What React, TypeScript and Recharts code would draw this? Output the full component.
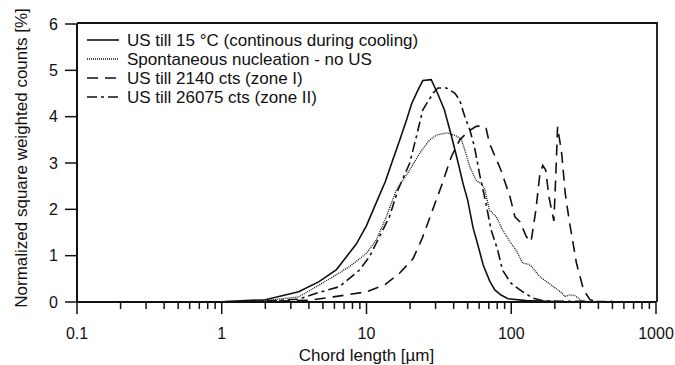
import { LineChart, Line, XAxis, YAxis } from 'recharts'

// chord length [µm] and normalized counts [%]
const coolingX = [1.05, 2, 3.4, 4.7, 6.2, 8.5, 10, 11.7, 13.5, 15.2, 17, 19, 20.5, 22.7, 24.5, 28, 31, 34.5, 38.5, 43, 46.5, 50, 54.5, 58, 64, 71, 77, 85, 95, 127, 200, 950]
const coolingY = [0.01, 0.05, 0.22, 0.44, 0.7, 1.25, 1.65, 2.15, 2.6, 3.07, 3.5, 3.95, 4.28, 4.58, 4.78, 4.8, 4.5, 4.15, 3.6, 3.0, 2.55, 2.2, 1.6, 1.3, 0.8, 0.45, 0.26, 0.15, 0.07, 0.03, 0.01, 0]

const spontX = [1.05, 2, 3.4, 4.5, 5.9, 7.6, 10, 11.7, 13.7, 16.1, 19.9, 23.3, 27.3, 30.4, 35.6, 40.7, 45, 47.8, 51.7, 57, 62, 65.5, 70.6, 78.7, 87, 98, 108, 120, 130, 137, 157, 196, 223, 235, 251, 270, 287, 305, 350, 950]
const spontY = [0, 0.03, 0.11, 0.33, 0.55, 0.76, 1.05, 1.34, 1.84, 2.42, 2.85, 3.21, 3.5, 3.6, 3.65, 3.6, 3.52, 3.28, 2.92, 2.63, 2.55, 2.45, 1.99, 1.84, 1.56, 1.3, 1.12, 0.84, 0.82, 0.78, 0.55, 0.33, 0.2, 0.12, 0.15, 0.15, 0.1, 0.03, 0, 0]

const zone1X = [1.05, 2, 4.05, 5.9, 10, 13.5, 16.9, 21, 24, 26.5, 29.5, 32.8, 38.6, 44.1, 50.4, 57.2, 63.8, 67, 70.6, 84.8, 98, 106, 115, 127, 137, 148, 157, 165, 173, 182, 197, 203, 209, 223, 236, 251, 282, 316, 350, 400, 950]
const zone1Y = [0, 0.01, 0.04, 0.11, 0.22, 0.38, 0.62, 0.94, 1.34, 1.7, 2.1, 2.49, 3.14, 3.5, 3.68, 3.79, 3.8, 3.75, 3.43, 2.85, 2.27, 1.84, 1.73, 1.41, 1.3, 1.99, 2.71, 2.95, 2.85, 2.27, 1.75, 2.71, 3.78, 3.21, 2.35, 1.77, 0.84, 0.26, 0.05, 0, 0]

const zone2X = [1.05, 2, 3.4, 4.5, 6.5, 8.95, 10.5, 12.3, 14.4, 16.5, 19.9, 22.1, 24.5, 28.9, 31.2, 35.6, 40.7, 44, 47.8, 51.7, 55.7, 60.5, 66.9, 72.5, 80.6, 87, 100, 120, 142, 170, 950]
const zone2Y = [0, 0.02, 0.06, 0.19, 0.33, 0.69, 0.98, 1.41, 1.84, 2.42, 3.0, 3.57, 4.15, 4.51, 4.62, 4.62, 4.51, 4.36, 4.0, 3.72, 3.35, 2.75, 2.13, 1.56, 1.12, 0.69, 0.4, 0.22, 0.08, 0.02, 0]

const majorTicks = [0.1, 1, 10, 100, 1000]
const xTicks = [0.1, 0.2, 0.3, 0.4, 0.5, 0.6, 0.7, 0.8, 0.9, 1, 2, 3, 4, 5, 6, 7, 8, 9, 10, 20, 30, 40, 50, 60, 70, 80, 90, 100, 200, 300, 400, 500, 600, 700, 800, 900, 1000]
const yTicks = [0, 1, 2, 3, 4, 5, 6]

const series = [
  { name: 'US till 15 °C (continous during cooling)', xs: coolingX, ys: coolingY, dash: undefined, width: 1.6 },
  { name: 'Spontaneous nucleation - no US', xs: spontX, ys: spontY, dash: '1 1', width: 1.3 },
  { name: 'US till 2140 cts (zone I)', xs: zone1X, ys: zone1Y, dash: '11 7', width: 1.6 },
  { name: 'US till 26075 cts (zone II)', xs: zone2X, ys: zone2Y, dash: '10 4 3 4', width: 1.6 },
]

const toPoints = (xs: number[], ys: number[]) => xs.map((x, i) => ({ x, y: ys[i] }))

const FONT = '"Liberation Sans", Arial, sans-serif'
const INK = '#111'

// layout
const W = 675
const H = 365
const MARGIN = { top: 24, right: 19, bottom: 0, left: 0 }
const Y_AXIS_W = 77
const X_AXIS_H = 63
const plotLeft = MARGIN.left + Y_AXIS_W
const plotRight = W - MARGIN.right
const plotTop = MARGIN.top
const plotBottom = H - MARGIN.bottom - X_AXIS_H

function XTick(props: any) {
  const { x, y, payload } = props
  const major = majorTicks.includes(payload.value)
  return (
    <g>
      <line x1={x} x2={x} y1={y} y2={y + (major ? 12 : 7)} stroke={INK} strokeWidth={1.5} />
      {major && (
        <text x={x} y={y + 37} textAnchor="middle" fontSize={16} fontFamily={FONT} fill={INK}>
          {payload.value}
        </text>
      )}
    </g>
  )
}

// top and right edges of the plot box (recharts has no box option)
function FrameBox() {
  return (
    <svg width={W} height={H} style={{ position: 'absolute', left: 0, top: 0, pointerEvents: 'none' }}>
      <polyline
        points={`${plotLeft},${plotTop - 1} ${plotRight + 1},${plotTop - 1} ${plotRight + 1},${plotBottom}`}
        fill="none"
        stroke={INK}
        strokeWidth={1.8}
      />
    </svg>
  )
}

function LegendBox() {
  return (
    <svg width={360} height={82} style={{ position: 'absolute', left: 80, top: 24 }}>
      {series.map((s, i) => (
        <g key={s.name}>
          <line x1={7} x2={39} y1={16 + i * 19} y2={16 + i * 19} stroke={INK} strokeWidth={s.width} strokeDasharray={s.dash} />
          <text x={47} y={22 + i * 19} fontSize={17} fontFamily={FONT} fill={INK}>{s.name}</text>
        </g>
      ))}
    </svg>
  )
}

export default function App() {
  return (
    <div style={{ position: 'absolute', left: 0, top: 0, width: W, height: H, background: '#fff' }}>
      <LineChart width={W} height={H} margin={MARGIN}>
        <XAxis
          dataKey="x"
          type="number"
          scale="log"
          domain={[0.1, 1000]}
          ticks={xTicks}
          interval={0}
          height={X_AXIS_H}
          tickSize={0}
          tickMargin={0}
          tick={<XTick />}
          axisLine={{ stroke: INK, strokeWidth: 2 }}
          label={{ value: 'Chord length [µm]', position: 'insideBottom', offset: 4, style: { fontSize: 17, fontFamily: FONT, fill: INK } }}
        />
        <YAxis
          type="number"
          domain={[0, 6]}
          ticks={yTicks}
          width={Y_AXIS_W}
          tickSize={12}
          tickMargin={7}
          tick={{ fontSize: 16, fontFamily: FONT, fill: INK }}
          tickLine={{ stroke: INK, strokeWidth: 1.5 }}
          axisLine={{ stroke: INK, strokeWidth: 2 }}
          label={{
            content: () => (
              <text x={21} y={158} transform="rotate(-90 21 158)" textAnchor="middle" dominantBaseline="central" fontSize={17} fontFamily={FONT} fill={INK}>
                Normalized square weighted counts [%]
              </text>
            ),
          }}
        />
        {series.map((s) => (
          <Line
            key={s.name}
            data={toPoints(s.xs, s.ys)}
            dataKey="y"
            name={s.name}
            type="linear"
            stroke={INK}
            strokeWidth={s.width}
            strokeDasharray={s.dash}
            dot={false}
            activeDot={false}
            isAnimationActive={false}
          />
        ))}
      </LineChart>
      <FrameBox />
      <LegendBox />
    </div>
  )
}
